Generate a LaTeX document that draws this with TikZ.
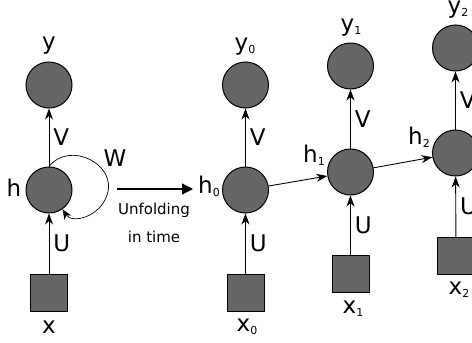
\documentclass[tikz,border=0pt]{standalone}
\usepackage{fontspec}
\setmainfont{DejaVu Sans}
\usetikzlibrary{arrows.meta}
\definecolor{nodegray}{RGB}{102,102,102}
\tikzset{
  unit/.style={circle,draw=black,line width=1pt,fill=nodegray,minimum size=46pt,inner sep=0pt},
  inbox/.style={rectangle,draw=black,line width=1pt,fill=nodegray,minimum size=37pt,inner sep=0pt},
  conn/.style={draw=black,line width=0.9pt,-{Stealth[length=11pt,width=8pt,inset=3.5pt]}},
  lbl/.style={font=\fontsize{23}{23}\selectfont,inner sep=0pt},
  small/.style={font=\fontsize{15}{15}\selectfont,inner sep=0pt}
}
\newcommand{\sub}[2]{#1\raisebox{-3pt}{\fontsize{11}{11}\selectfont #2}}
\begin{document}
\begin{tikzpicture}[x=1pt,y=-1pt]
\useasboundingbox (0,0) rectangle (472,343);
% folded
\node[unit] (y) at (49,85) {};
\node[unit] (h) at (49,190) {};
\node[inbox] (x) at (49,293) {};
\node[lbl] (ly) at (49,46) {y};
\node[lbl] (lh) at (14,188) {h};
\node[lbl] (lx) at (49,327) {x};
\draw[conn] (x) -- (h) node[lbl,pos=0.5,right=4pt] (lu) {U};
\draw[conn] (h) -- (y) node[lbl,pos=0.5,right=4pt] (lv) {V};
\draw[draw=black,line width=0.7pt,-{Stealth[length=10pt,width=8pt,inset=3pt]}] (h.north) .. controls (70,140) and (118,165) .. (107,195) .. controls (100,217) and (72,224) .. (h.-55);
\node[lbl] (lw) at (115,158) {W};
% unfolding arrow
\coordinate (ua) at (117,189);
\coordinate (ub) at (193,189);
\draw[line width=1.1pt,-{Triangle[length=11pt,width=11pt]}] (ua) -- (ub);
\node[small] (t1) at (154,210) {Unfolding};
\node[small] (t2) at (154,237) {in time};
% unfolded t0
\node[unit] (y0) at (245.5,85) {};
\node[unit] (h0) at (245.5,190) {};
\node[inbox] (x0) at (245.5,293) {};
\node[lbl] (ly0) at (245,47) {\sub{y}{0}};
\node[lbl] (lh0) at (209,186) {\sub{h}{0}};
\node[lbl] (lx0) at (247,327) {\sub{x}{0}};
\draw[conn] (x0) -- (h0) node[lbl,pos=0.5,right=4pt] (lu0) {U};
\draw[conn] (h0) -- (y0) node[lbl,pos=0.5,right=4pt] (lv0) {V};
% t1
\node[unit] (y1) at (350.5,66) {};
\node[unit] (h1) at (350.5,172) {};
\node[inbox] (x1) at (350.5,274) {};
\node[lbl] (ly1) at (351,28) {\sub{y}{1}};
\node[lbl] (lh1) at (314,155) {\sub{h}{1}};
\node[lbl] (lx1) at (353,309) {\sub{x}{1}};
\draw[conn] (x1) -- (h1) node[lbl,pos=0.5,right=4pt] (lu1) {U};
\draw[conn] (h1) -- (y1) node[lbl,pos=0.5,right=4pt] (lv1) {V};
% t2
\node[unit] (y2) at (455.5,48) {};
\node[unit] (h2) at (455.5,153) {};
\node[inbox] (x2) at (456,256) {};
\node[lbl] (ly2) at (458,10) {\sub{y}{2}};
\node[lbl] (lh2) at (419,137) {\sub{h}{2}};
\node[lbl] (lx2) at (459,290) {\sub{x}{2}};
\draw[conn] (x2) -- (h2) node[lbl,pos=0.5,right=4pt] (lu2) {U};
\draw[conn] (h2) -- (y2) node[lbl,pos=0.5,right=4pt] (lv2) {V};
% recurrent
\draw[conn] (h0) -- (h1);
\draw[conn] (h1) -- (h2);
\end{tikzpicture}
\end{document}
